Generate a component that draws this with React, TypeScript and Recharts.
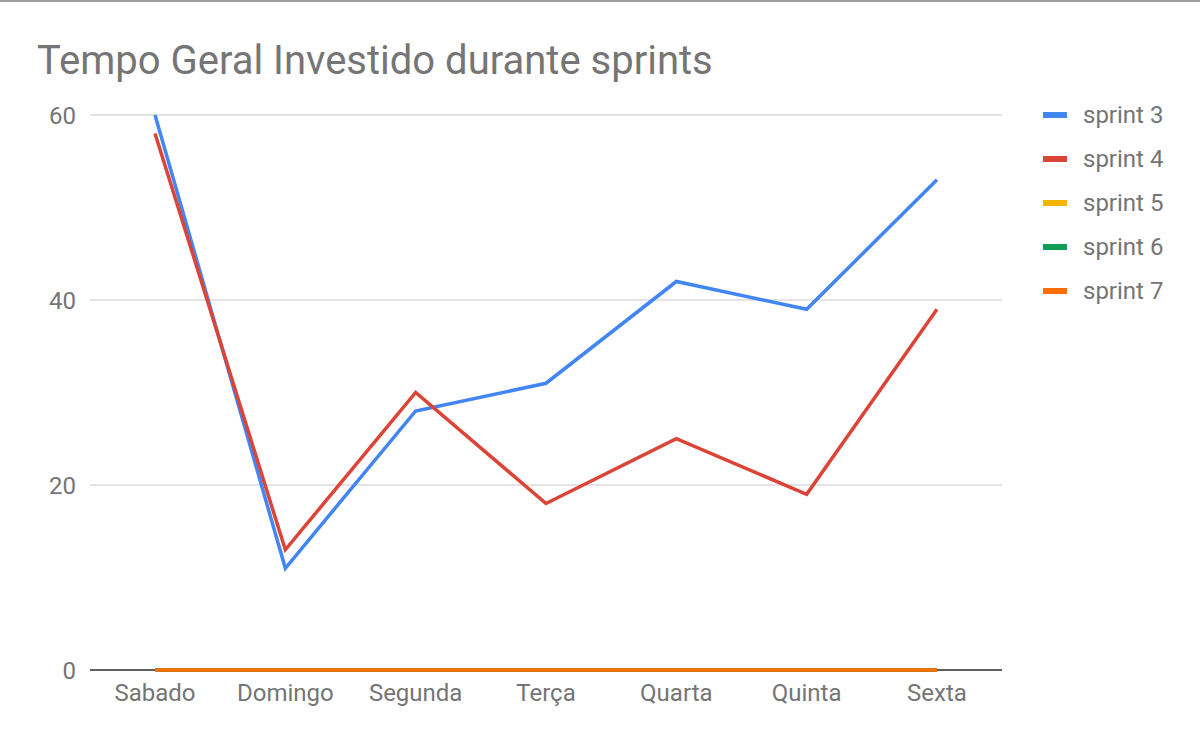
import React from "react";
import { LineChart, Line, XAxis, YAxis, CartesianGrid, ReferenceLine } from "recharts";

// days of the sprint, as labelled on the x axis
const days = ["Sabado", "Domingo", "Segunda", "Terça", "Quarta", "Quinta", "Sexta"];

// hours per day for each sprint
const sprint3 = [60, 11, 28, 31, 42, 39, 53];
const sprint4 = [58, 13, 30, 18, 25, 19, 39];
const sprint5 = [0, 0, 0, 0, 0, 0, 0];
const sprint6 = [0, 0, 0, 0, 0, 0, 0];
const sprint7 = [0, 0, 0, 0, 0, 0, 0];

const yTicks = [0, 20, 40, 60];

const SERIES = [
  { key: "sprint 3", values: sprint3, color: "#4285f4" },
  { key: "sprint 4", values: sprint4, color: "#db4437" },
  { key: "sprint 5", values: sprint5, color: "#f4b400" },
  { key: "sprint 6", values: sprint6, color: "#0f9d58" },
  { key: "sprint 7", values: sprint7, color: "#ff6d00" },
];

const data = days.map((day, i) => {
  const row: Record<string, any> = { day };
  SERIES.forEach(s => { row[s.key] = s.values[i]; });
  return row;
});

const FONT = "Roboto, 'Noto Sans', Arial, sans-serif";
const TEXT = "#757575";

function LegendList() {
  return (
    <div style={{ position: "absolute", left: 1043, top: 91, fontFamily: FONT, fontSize: 24, color: TEXT }}>
      {SERIES.map(s => (
        <div key={s.key} style={{ display: "flex", alignItems: "center", height: 44 }}>
          <span style={{ display: "inline-block", width: 24, height: 6, background: s.color, marginRight: 16 }} />
          <span>{s.key}</span>
        </div>
      ))}
    </div>
  );
}

export default function App() {
  return (
    <div style={{ position: "absolute", left: 0, top: 0, width: 1200, height: 742, background: "#fff", borderTop: "2px solid #9e9e9e", boxSizing: "border-box" }}>
      <div style={{ position: "absolute", left: 37, top: 35, fontFamily: FONT, fontSize: 40, color: TEXT, whiteSpace: "nowrap" }}>
        Tempo Geral Investido durante sprints
      </div>
      <LineChart width={1200} height={740} data={data} margin={{ top: 113, right: 198, bottom: 0, left: 0 }}>
        <CartesianGrid vertical={false} stroke="#c8c8c8" />
        <XAxis
          dataKey="day"
          axisLine={false}
          tickLine={false}
          tickSize={0}
          tickMargin={14}
          padding={{ left: 65, right: 65 }}
          interval={0}
          tick={{ fill: TEXT, fontSize: 24, fontFamily: FONT }}
          height={72}
        />
        <YAxis
          width={90}
          domain={[0, 60]}
          ticks={yTicks}
          axisLine={false}
          tickLine={false}
          tickSize={0}
          tickMargin={14}
          tick={{ fill: TEXT, fontSize: 24, fontFamily: FONT }}
        />
        <ReferenceLine y={0} stroke="#333333" strokeWidth={1.5} />
        {SERIES.map(s => (
          <Line
            key={s.key}
            type="linear"
            dataKey={s.key}
            stroke={s.color}
            strokeWidth={3.5}
            dot={false}
            activeDot={false}
            isAnimationActive={false}
          />
        ))}
      </LineChart>
      <LegendList />
    </div>
  );
}
